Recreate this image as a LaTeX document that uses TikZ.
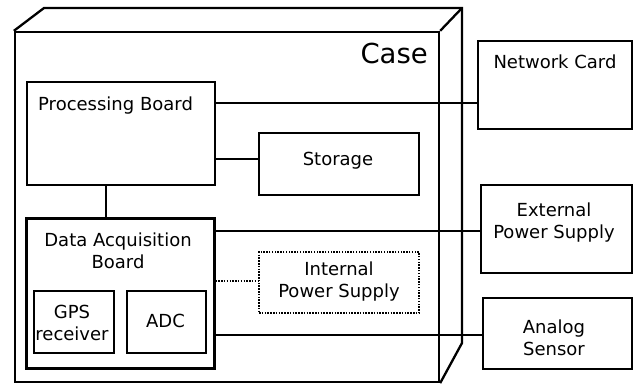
\documentclass[tikz,border=0pt]{standalone}
\usepackage{fontspec}
\setmainfont{DejaVu Sans}
\usetikzlibrary{calc}
\begin{document}
\begin{tikzpicture}[x=1pt,y=-1pt,
  box/.style={draw,line width=2.3pt,minimum width=0pt,minimum height=0pt,inner sep=0pt,fill=none},
  thinbox/.style={draw,line width=1.4pt,inner sep=0pt},
  txt/.style={font=\fontsize{18pt}{22pt}\selectfont,align=center,inner sep=0pt,anchor=base},
  wire/.style={line width=2.2pt},
  dotwire/.style={line width=2.3pt,dash pattern=on 1.5pt off 1.3pt}]
\useasboundingbox[fill=white] (0,0) rectangle (634,384);
% case 3D
\node[box,minimum width=424pt,minimum height=350pt] (case) at (227,207) {};
\coordinate (btl) at (44,8);
\coordinate (btr) at (462,8);
\coordinate (bbr) at (462,343);
\draw[line width=2.3pt,line join=miter] (case.north west) -- (btl) -- (btr) -- (bbr) -- (case.south east);
\draw[line width=2.3pt] (case.north east) -- (btr);
\node[anchor=base east,inner sep=0pt,font=\fontsize{27.5pt}{33pt}\selectfont] (caselbl) at (428,63) {Case};
% boxes
\node[box,minimum width=188pt,minimum height=103pt] (pb) at (121,133.5) {};
\node[txt,anchor=base west] (pbt) at (38,110) {Processing Board};
\node[box,minimum width=160pt,minimum height=62pt] (st) at (339,164) {};
\node[txt] (stt) at (338,165) {Storage};
\node[draw,line width=3pt,inner sep=0pt,minimum width=188pt,minimum height=150pt] (daq) at (120,293) {};
\node[txt] (daqt) at (118,268) {Data Acquisition\\Board};
\node[thinbox,minimum width=80pt,minimum height=62pt] (gps) at (74,322) {};
\node[txt] (gpst) at (72,340) {GPS\\receiver};
\node[thinbox,minimum width=79pt,minimum height=62pt] (adc) at (166.5,322) {};
\node[txt] (adct) at (165.5,327) {ADC};
\node[draw,line width=2.3pt,dash pattern=on 1.5pt off 1.3pt,inner sep=0pt,minimum width=160pt,minimum height=61pt] (ips) at (339,282.5) {};
\node[txt] (ipst) at (339,297) {Internal\\Power Supply};
\node[box,minimum width=154pt,minimum height=88pt] (nc) at (555,85) {};
\node[txt] (nct) at (555,68) {Network Card};
\node[box,minimum width=151pt,minimum height=88pt] (eps) at (556.5,229) {};
\node[txt] (epst) at (554,238) {External\\Power Supply};
\node[box,minimum width=149pt,minimum height=71pt] (as) at (557.5,333.5) {};
\node[txt] (ast) at (554,355) {Analog\\Sensor};
% connector levels
\coordinate (y1) at (0,103);
\coordinate (y2) at (0,159);
\coordinate (y3) at (0,231);
\coordinate (y4) at (0,281);
\coordinate (y5) at (0,335);
\coordinate (x1) at (106,0);
\draw[wire] (pb.east |- y1) -- (nc.west |- y1);
\draw[wire] (pb.east |- y2) -- (st.west |- y2);
\draw[line width=1.5pt] (pb.south -| x1) -- (daq.north -| x1);
\draw[wire] (daq.east |- y3) -- (eps.west |- y3);
\draw[dotwire] (daq.east |- y4) -- (ips.west |- y4);
\draw[wire] (daq.east |- y5) -- (as.west |- y5);
\end{tikzpicture}
\end{document}
